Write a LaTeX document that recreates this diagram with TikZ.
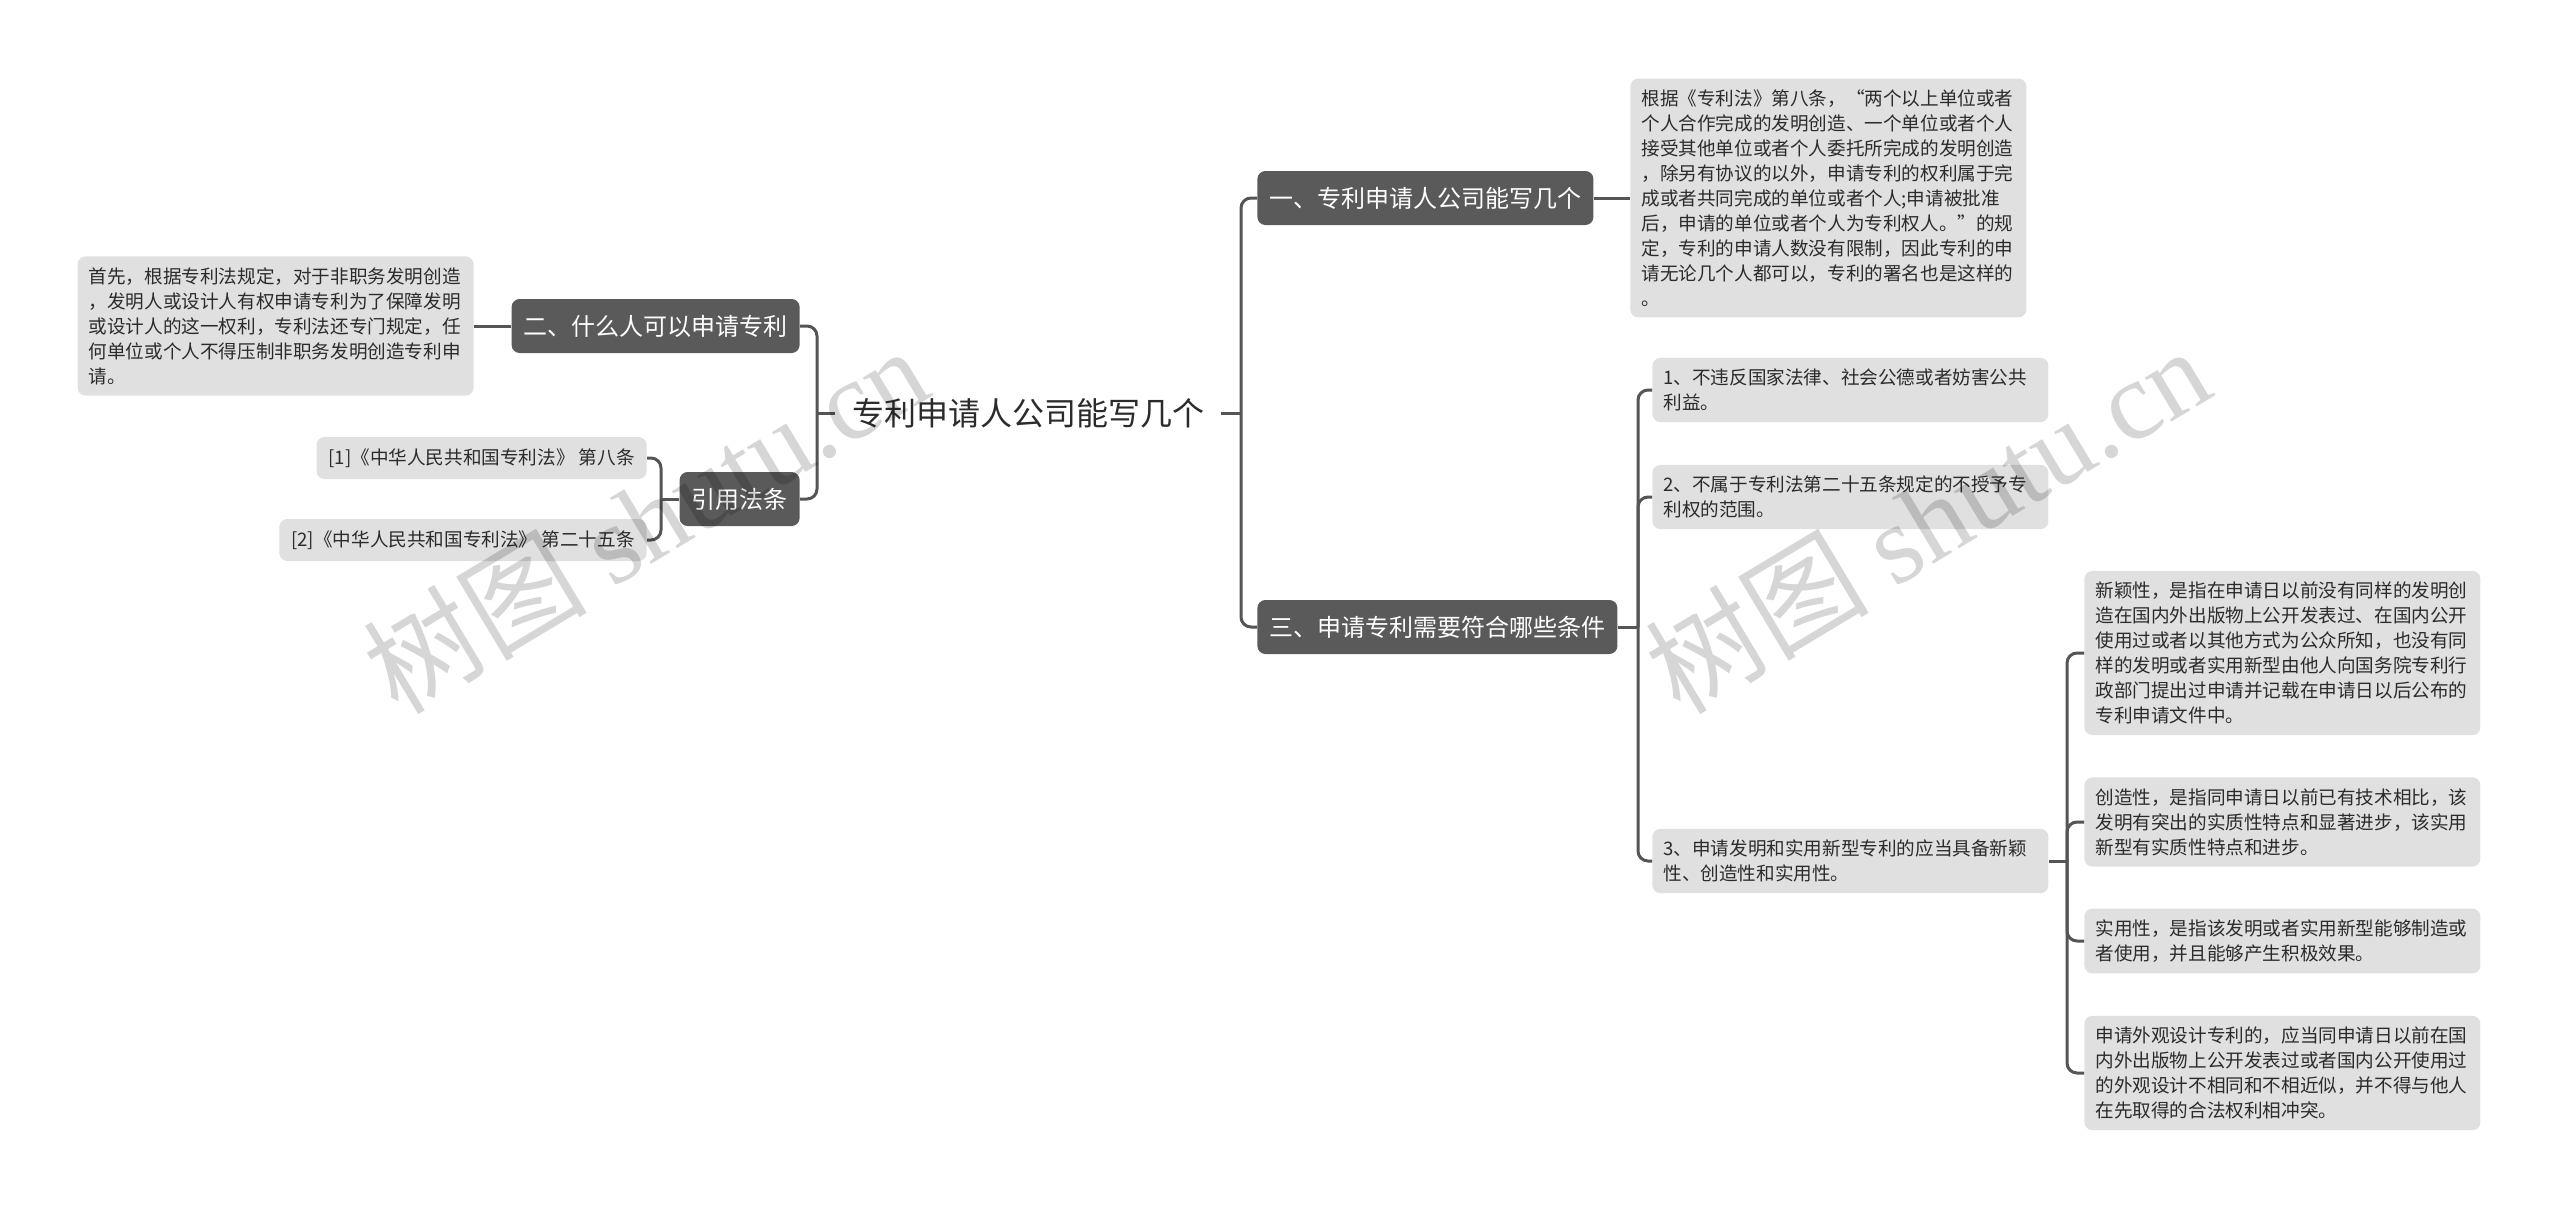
\documentclass[tikz,border=0pt]{standalone}
\usepackage{fontspec}
\setmainfont{Noto Sans CJK SC}
\newfontfamily\stamplatin{Liberation Serif}
\usepackage{xcolor}
\usepackage{tikz}
\definecolor{topic}{HTML}{5A5A5A}
\definecolor{leaf}{HTML}{E0E0E0}
\definecolor{wire}{HTML}{555555}
\definecolor{ink}{HTML}{2B2B2B}

\begin{document}
\begin{tikzpicture}[x=0.5pt, y=-0.5pt,
  topicbox/.style={fill=topic, rounded corners=4pt, text=white,
    font=\fontsize{12}{14}\selectfont, inner xsep=6pt, minimum height=27pt},
  leafbox/.style={fill=leaf, rounded corners=4pt, text=ink,
    font=\fontsize{9.3}{12.5}\selectfont, text width=187pt, align=left,
    inner xsep=5.5pt, inner ysep=5.5pt},
  refbox/.style={fill=leaf, rounded corners=4pt, text=ink,
    font=\fontsize{9.3}{12.5}\selectfont, inner xsep=6pt, minimum height=21pt},
  link/.style={draw=wire, line width=1.5pt},
  elbow/.style={link, rounded corners=5pt},
  stamp/.style={rotate=31, text=black, text opacity=0.16,
    font=\fontsize{56}{60}\selectfont}]
  \useasboundingbox (0,0) rectangle (2560,1211);
  \node[text=ink, font=\fontsize{16}{18}\selectfont, inner xsep=8.5pt] (root) at (1028,413) {专利申请人公司能写几个};

  \node[topicbox, anchor=west] (t1) at (1257,198) {一、专利申请人公司能写几个};
  \node[topicbox, anchor=east] (t2) at (800,326) {二、什么人可以申请专利};
  \node[topicbox, anchor=west] (t3) at (1257,627) {三、申请专利需要符合哪些条件};
  \node[topicbox, anchor=east] (cite) at (800,499) {引用法条};

  \node[leafbox, anchor=west] (d1) at (1630,198) {根据《专利法》第八条，“两个以上单位或者\\个人合作完成的发明创造、一个单位或者个人\\接受其他单位或者个人委托所完成的发明创造\\，除另有协议的以外，申请专利的权利属于完\\成或者共同完成的单位或者个人;申请被批准\\后，申请的单位或者个人为专利权人。”的规\\定，专利的申请人数没有限制，因此专利的申\\请无论几个人都可以，专利的署名也是这样的\\。};
  \node[leafbox, anchor=east] (d2) at (474,326) {首先，根据专利法规定，对于非职务发明创造\\，发明人或设计人有权申请专利为了保障发明\\或设计人的这一权利，专利法还专门规定，任\\何单位或个人不得压制非职务发明创造专利申\\请。};
  \node[refbox, anchor=east] (r1) at (647,458) {[1]《中华人民共和国专利法》 第八条};
  \node[refbox, anchor=east] (r2) at (647,540) {[2]《中华人民共和国专利法》 第二十五条};

  \node[leafbox, anchor=west] (i1) at (1652,390) {1、不违反国家法律、社会公德或者妨害公共\\利益。};
  \node[leafbox, anchor=west] (i2) at (1652,497) {2、不属于专利法第二十五条规定的不授予专\\利权的范围。};
  \node[leafbox, anchor=west] (i3) at (1652,861) {3、申请发明和实用新型专利的应当具备新颖\\性、创造性和实用性。};

  \node[leafbox, anchor=west] (s1) at (2084,653) {新颖性，是指在申请日以前没有同样的发明创\\造在国内外出版物上公开发表过、在国内公开\\使用过或者以其他方式为公众所知，也没有同\\样的发明或者实用新型由他人向国务院专利行\\政部门提出过申请并记载在申请日以后公布的\\专利申请文件中。};
  \node[leafbox, anchor=west] (s2) at (2084,822) {创造性，是指同申请日以前已有技术相比，该\\发明有突出的实质性特点和显著进步，该实用\\新型有实质性特点和进步。};
  \node[leafbox, anchor=west] (s3) at (2084,941) {实用性，是指该发明或者实用新型能够制造或\\者使用，并且能够产生积极效果。};
  \node[leafbox, anchor=west] (s4) at (2084,1073) {申请外观设计专利的，应当同申请日以前在国\\内外出版物上公开发表过或者国内公开使用过\\的外观设计不相同和不相近似，并不得与他人\\在先取得的合法权利相冲突。};

  \coordinate (rbus) at (1241,413);
  \coordinate (lbus) at (817,413);
  \coordinate (cbus) at (661,499);
  \coordinate (ibus) at (1638,627);
  \coordinate (sbus) at (2067,861);

  \draw[link] (root.east) -- (rbus);
  \foreach \n in {t1, t3}
    \draw[elbow] (rbus) |- (\n.west);
  \draw[link] (root.west) -- (lbus);
  \foreach \n in {t2, cite}
    \draw[elbow] (lbus) |- (\n.east);
  \draw[link] (t1.east) -- (d1.west);
  \draw[link] (t2.west) -- (d2.east);
  \draw[link] (cite.west) -- (cbus);
  \foreach \n in {r1, r2}
    \draw[elbow] (cbus) |- (\n.east);
  \draw[link] (t3.east) -- (ibus);
  \foreach \n in {i1, i2, i3}
    \draw[elbow] (ibus) |- (\n.west);
  \draw[link] (i3.east) -- (sbus);
  \foreach \n in {s1, s2, s3, s4}
    \draw[elbow] (sbus) |- (\n.west);

  \node[stamp] (wm1) at (645,519) {树图 {\stamplatin shutu.cn}};
  \node[stamp] (wm2) at (1927,519) {树图 {\stamplatin shutu.cn}};
\end{tikzpicture}
\end{document}
